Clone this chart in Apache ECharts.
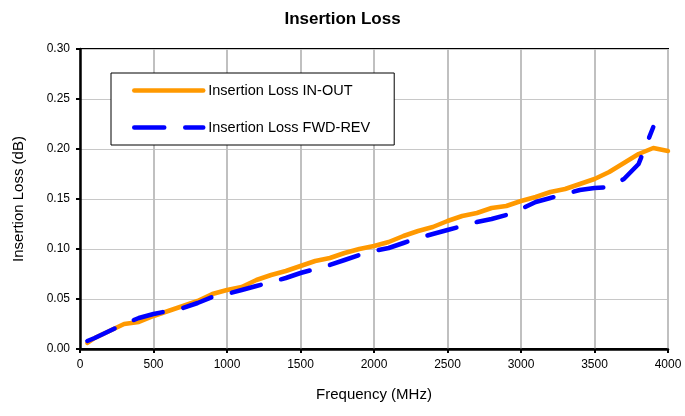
<!DOCTYPE html>
<html>
<head>
<meta charset="utf-8">
<script src="https://cdn.jsdelivr.net/npm/echarts@6/dist/echarts.min.js"></script>
<style>html,body{margin:0;padding:0;background:#fff}#c{width:685px;height:416px}</style>
</head>
<body>
<div id="c"></div>
<script>
const freqMHz = [50,100,200,300,400,500,600,700,800,900,1000,1100,1200,1300,1400,1500,1600,1700,1800,1900,2000,2100,2200,2300,2400,2500,2600,2700,2800,2900,3000,3100,3200,3300,3400,3500,3600,3700,3800,3900,4000];
const lossInOut = [0.006,0.011,0.018,0.025,0.027,0.033,0.038,0.043,0.048,0.055,0.059,0.062,0.069,0.074,0.078,0.083,0.088,0.091,0.096,0.100,0.103,0.107,0.113,0.118,0.122,0.128,0.133,0.136,0.141,0.143,0.148,0.152,0.157,0.160,0.165,0.170,0.177,0.186,0.195,0.201,0.198];
const lossFwdRev = [0.008,0.011,0.018,0.025,0.031,0.035,0.038,0.041,0.046,0.052,0.055,0.059,0.063,0.067,0.071,0.076,0.080,0.084,0.089,0.094,0.098,0.101,0.106,0.111,0.115,0.119,0.123,0.127,0.130,0.134,0.140,0.147,0.151,0.155,0.159,0.161,0.162,0.170,0.185,0.222,null];
const seriesNames = ['Insertion Loss IN-OUT','Insertion Loss FWD-REV'];

const chart = echarts.init(document.getElementById('c'), null, {renderer:'canvas'});
const font = 'Liberation Sans, Arial, sans-serif';
chart.setOption({
  animation:false,
  backgroundColor:'#fff',
  title:{text:'Insertion Loss', left:'center', top:6, textStyle:{fontFamily:font, fontSize:17, fontWeight:'bold', color:'#000'}},
  grid:{left:80, right:17, top:49, bottom:67, show:true, borderColor:'#000', borderWidth:2, backgroundColor:'transparent'},
  legend:{
    orient:'vertical', left:111, top:73,
    backgroundColor:'#fff', borderColor:'#000', borderWidth:1,
    padding:[10,24,10,21], itemGap:22, itemWidth:69, itemHeight:15,
    itemStyle:{opacity:0},
    lineStyle:{width:4.5},
    textStyle:{fontFamily:font, fontSize:14.5, color:'#000'},
    data:seriesNames
  },
  xAxis:{
    type:'value', min:0, max:4000, interval:500,
    name:'Frequency (MHz)', nameLocation:'middle', nameGap:46,
    nameTextStyle:{fontFamily:font, fontSize:15, color:'#000', verticalAlign:'middle'},
    axisLine:{show:true, lineStyle:{color:'#000', width:2.5}},
    axisTick:{show:true, inside:false, length:4, lineStyle:{color:'#000', width:2}},
    axisLabel:{fontFamily:font, fontSize:12, color:'#000', margin:10, formatter:v=>String(v)},
    splitLine:{show:true, lineStyle:{color:'#c0c0c0', width:2}}
  },
  yAxis:{
    type:'value', min:0, max:0.3, interval:0.05,
    name:'Insertion Loss (dB)', nameLocation:'middle', nameGap:54, nameRotate:90,
    nameTextStyle:{fontFamily:font, fontSize:15, color:'#000'},
    axisLine:{show:true, lineStyle:{color:'#000', width:2.5}},
    axisTick:{show:true, inside:false, length:4, lineStyle:{color:'#000', width:2}},
    axisLabel:{fontFamily:font, fontSize:12, color:'#000', margin:10, formatter:v=>v.toFixed(2)},
    splitLine:{show:true, lineStyle:{color:'#c8c8c8', width:1}}
  },
  series:[
    {name:seriesNames[0], type:'line', showSymbol:false, symbol:'none',
     data:freqMHz.map((f,i)=>[f,lossInOut[i]]),
     lineStyle:{color:'#ff9900', width:4.5, cap:'round', join:'round'}, itemStyle:{color:'#ff9900'}, z:2},
    {name:seriesNames[1], type:'line', showSymbol:false, symbol:'none', connectNulls:false,
     data:freqMHz.map((f,i)=>[f,lossFwdRev[i]]),
     lineStyle:{color:'#0000ff', width:4.5, type:[30,21], cap:'round', join:'round'}, itemStyle:{color:'#0000ff'}, z:3}
  ]
});
</script>
</body>
</html>
